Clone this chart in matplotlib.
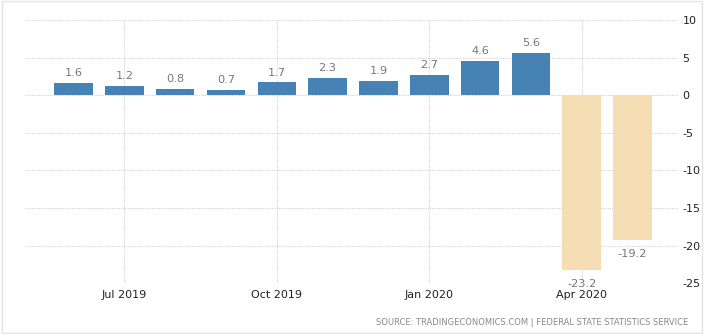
import matplotlib.pyplot as plt
import numpy as np
from matplotlib.patches import Rectangle

# monthly growth, Jun 2019 - May 2020
months = ['Jun 2019', 'Jul 2019', 'Aug 2019', 'Sep 2019', 'Oct 2019', 'Nov 2019',
          'Dec 2019', 'Jan 2020', 'Feb 2020', 'Mar 2020', 'Apr 2020', 'May 2020']
values = [1.6, 1.2, 0.8, 0.7, 1.7, 2.3, 1.9, 2.7, 4.6, 5.6, -23.2, -19.2]
# bars that show the most recent (forecast-style) colour
highlight = ['Apr 2020', 'May 2020']
tick_months = ['Jul 2019', 'Oct 2019', 'Jan 2020', 'Apr 2020']
y_ticks = [10, 5, 0, -5, -10, -15, -20, -25]

plt.rcParams['font.family'] = ['DejaVu Sans']
plt.rcParams['axes.unicode_minus'] = False

fig = plt.figure(figsize=(7.04, 3.34), dpi=100)
ax = fig.add_axes([0.0355, 0.152, 0.928, 0.788])

x = np.arange(len(months))
colors = ['#F5DEB3' if m in highlight else '#4682B4' for m in months]
ax.bar(x, values, width=0.76, color=colors, zorder=3)

for xi, v in zip(x, values):
    if v >= 0:
        ax.annotate(f'{v:.1f}', (xi, v), xytext=(0, 3.5), textcoords='offset points',
                    ha='center', va='bottom', fontsize=8.2, color='#777777')
    else:
        ax.annotate(f'{v:.1f}', (xi, v), xytext=(0, -6.5), textcoords='offset points',
                    ha='center', va='top', fontsize=8.2, color='#777777')

ax.set_xlim(-0.955, 11.9)
ax.set_ylim(-25, 10)
ax.set_yticks(y_ticks)
ax.yaxis.tick_right()
ax.set_xticks([months.index(m) for m in tick_months])
ax.set_xticklabels(tick_months)
ax.tick_params(axis='both', length=0, labelsize=8, colors='#222222')
ax.tick_params(axis='y', pad=3)
ax.tick_params(axis='x', pad=5)

ax.grid(True, color='#d3d3d3', linestyle=(0, (1, 1)), linewidth=0.8, zorder=0)
for s in ax.spines.values():
    s.set_visible(False)

fig.text(0.977, 0.022, 'SOURCE: TRADINGECONOMICS.COM | FEDERAL STATE STATISTICS SERVICE',
         ha='right', va='bottom', fontsize=6.0, color='#888888')

fig.patches.append(Rectangle((0.003, 0.003), 0.994, 0.994, transform=fig.transFigure,
                             fill=False, edgecolor='#e3e3e3', linewidth=1))

fig.savefig('out.png', dpi=100)
